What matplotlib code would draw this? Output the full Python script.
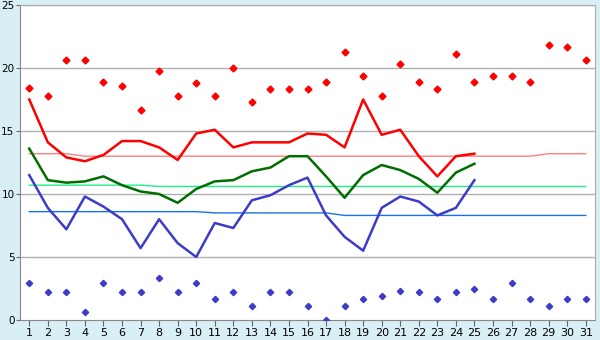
import matplotlib
matplotlib.use('Agg')
import matplotlib.pyplot as plt

days = list(range(1, 32))

obs_max = [17.5, 14.1, 12.9, 12.6, 13.1, 14.2, 14.2, 13.7, 12.7, 14.8,
           15.1, 13.7, 14.1, 14.1, 14.1, 14.8, 14.7, 13.7, 17.5, 14.7,
           15.1, 13.0, 11.4, 13.0, 13.2]
obs_mean = [13.6, 11.1, 10.9, 11.0, 11.4, 10.7, 10.2, 10.0, 9.3, 10.4,
            11.0, 11.1, 11.8, 12.1, 13.0, 13.0, 11.4, 9.7, 11.5, 12.3,
            11.9, 11.2, 10.1, 11.7, 12.4]
obs_min = [11.5, 8.9, 7.2, 9.8, 9.0, 8.0, 5.7, 8.0, 6.1, 5.0,
           7.7, 7.3, 9.5, 9.9, 10.7, 11.3, 8.3, 6.6, 5.5, 8.9,
           9.8, 9.4, 8.3, 8.9, 11.1]

normal_max = [13.2] * 3 + [13.0] * 25 + [13.2] * 3
normal_mean = [10.7] * 7 + [10.6] * 24
normal_min = [8.6] * 10 + [8.5] * 7 + [8.3] * 14

record_max = [18.4, 17.8, 20.6, 20.6, 18.9, 18.6, 16.7, 19.8, 17.8, 18.8,
              17.8, 20.0, 17.3, 18.3, 18.3, 18.3, 18.9, 21.3, 19.4, 17.8,
              20.3, 18.9, 18.3, 21.1, 18.9, 19.4, 19.4, 18.9, 21.8, 21.7, 20.6]
record_min = [2.9, 2.2, 2.2, 0.6, 2.9, 2.2, 2.2, 3.3, 2.2, 2.9,
              1.7, 2.2, 1.1, 2.2, 2.2, 1.1, 0.0, 1.1, 1.7, 1.9,
              2.3, 2.2, 1.7, 2.2, 2.5, 1.7, 2.9, 1.7, 1.1, 1.7, 1.7]

bg = '#d9eff6'
fig = plt.figure(figsize=(6, 3.4), dpi=100, facecolor=bg)
ax = fig.add_axes([20 / 600, 20 / 340, 575 / 600, 315 / 340])
ax.set_facecolor('white')

for y in [5, 10, 15, 20, 25]:
    ax.axhline(y, color='#b0b0b0', lw=1, zorder=1)

n = len(obs_max)
ax.plot(days, normal_max, color='#ff8080', lw=1, zorder=2)
ax.plot(days, normal_mean, color='#22ee88', lw=1, zorder=2)
ax.plot(days, normal_min, color='#1a70e8', lw=1, zorder=2)

ax.plot(days[:n], obs_max, color='#ff0000', lw=1.8, zorder=3)
ax.plot(days[:n], obs_mean, color='#006e00', lw=1.8, zorder=3)
ax.plot(days[:n], obs_min, color='#3c3cc8', lw=1.8, zorder=3)

ax.plot(days, record_max, ls='none', marker='D', ms=3.5, color='#ff0000', zorder=4)
ax.plot(days, record_min, ls='none', marker='D', ms=3.2, color='#3c3cc8', zorder=4)

ax.set_xlim(0.5, 31.5)
ax.set_ylim(0, 25)
ax.set_xticks(days)
ax.set_yticks([0, 5, 10, 15, 20, 25])
ax.tick_params(axis='x', labelsize=8, length=4, color='#666666', pad=2)
ax.tick_params(axis='y', labelsize=7.5, length=3, color='#666666', pad=1)
for s in ax.spines.values():
    s.set_color('#aaaaaa')
ax.spines['left'].set_color('#888888')
ax.spines['bottom'].set_color('#888888')

fig.savefig('out.png', dpi=100, facecolor=bg)
